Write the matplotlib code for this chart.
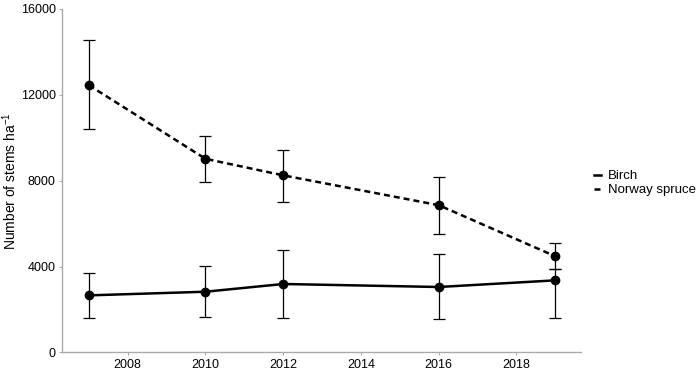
import matplotlib
matplotlib.use("Agg")
from matplotlib import pyplot as plt

plt.rcParams['font.family'] = ['Liberation Sans', 'DejaVu Sans']
plt.rcParams['mathtext.fontset'] = 'custom'
plt.rcParams['mathtext.rm'] = 'Liberation Sans'

years = [2007, 2010, 2012, 2016, 2019]

spruce = [12450, 9020, 8250, 6860, 4480]
spruce_upper = [14550, 10090, 9440, 8150, 5100]
spruce_lower = [10400, 7950, 7010, 5520, 3870]

birch = [2660, 2830, 3190, 3050, 3360]
birch_upper = [3720, 4030, 4760, 4600, 3870]
birch_lower = [1600, 1650, 1600, 1540, 1620]

xticks = [2008, 2010, 2012, 2014, 2016, 2018]
yticks = [0, 4000, 8000, 12000, 16000]

fig = plt.figure(figsize=(7, 3.71), dpi=100)
ax = fig.add_axes([0.0886, 0.0499, 0.742, 0.926])

def draw(vals, upper, lower, style, label):
    err = [[v - lo for v, lo in zip(vals, lower)], [up - v for v, up in zip(vals, upper)]]
    ax.errorbar(years, vals, yerr=err, fmt='none', ecolor='black', elinewidth=0.9,
                capsize=4.5, capthick=0.9, zorder=2)
    ax.plot(years, vals, color='black', linewidth=1.8, linestyle=style, label=label, zorder=3)
    ax.plot(years, vals, 'o', color='black', markersize=6, zorder=4)

draw(birch, birch_upper, birch_lower, '-', 'Birch')
draw(spruce, spruce_upper, spruce_lower, (0, (2.4, 1.6)), 'Norway spruce')

ax.set_xlim(2006.31, 2019.67)
ax.set_ylim(0, 16000)
ax.set_xticks(xticks)
ax.set_yticks(yticks)
ax.tick_params(labelsize=9, length=2.5, width=0.6, color='#999999', labelcolor='black', pad=2)
for side in ['top', 'right']:
    ax.spines[side].set_visible(False)
for side in ['left', 'bottom']:
    ax.spines[side].set_color('#aaaaaa')
    ax.spines[side].set_linewidth(1.0)

ax.set_ylabel('Number of stems ha$^{-1}$', fontsize=10)
ax.yaxis.set_label_coords(-0.083, 0.5)

ax.legend(loc='center left', bbox_to_anchor=(1.0, 0.493), frameon=False, fontsize=9.5,
          handlelength=0.55, handletextpad=0.5, labelspacing=0.12, borderaxespad=0.55)

fig.savefig('out.png', dpi=100)
